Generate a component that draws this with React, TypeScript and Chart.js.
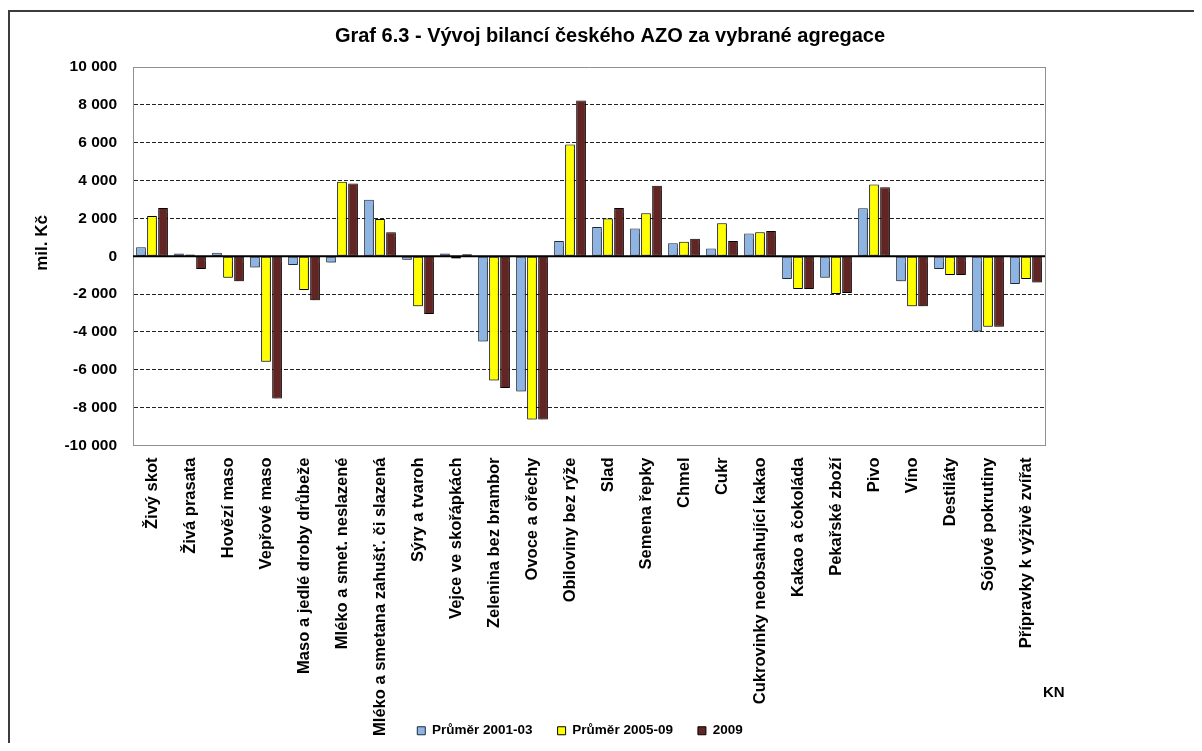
import React, { useEffect, useRef } from "react";
import { Chart, registerables } from "chart.js";

Chart.register(...registerables);

const categories = [
  "Živý skot",
  "Živá prasata",
  "Hovězí maso",
  "Vepřové maso",
  "Maso a jedlé droby drůbeže",
  "Mléko a smet. neslazené",
  "Mléko a smetana zahušť. či slazená",
  "Sýry a tvaroh",
  "Vejce ve skořápkách",
  "Zelenina bez brambor",
  "Ovoce a ořechy",
  "Obiloviny bez rýže",
  "Slad",
  "Semena řepky",
  "Chmel",
  "Cukr",
  "Cukrovinky neobsahující kakao",
  "Kakao a čokoláda",
  "Pekařské zboží",
  "Pivo",
  "Víno",
  "Destiláty",
  "Sójové pokrutiny",
  "Přípravky k výživě zvířat",
];

const avg2001_03 = [480, 140, 190, -600, -460, -335, 2980, -180, 140, -4510, -7150, 810, 1550, 1460, 690, 405, 1200, -1200, -1130, 2540, -1320, -670, -3980, -1460];
const avg2005_09 = [2130, 90, -1130, -5570, -1780, 3930, 1970, -2640, -120, -6570, -8620, 5900, 1990, 2270, 760, 1745, 1270, -1730, -1990, 3790, -2640, -990, -3720, -1200];
const year2009 = [2550, -670, -1320, -7510, -2330, 3840, 1270, -3050, 100, -6960, -8620, 8230, 2555, 3720, 930, 810, 1340, -1730, -1940, 3650, -2640, -990, -3720, -1390];

const seriesLabels = ["Průměr 2001-03", "Průměr 2005-09", "2009"];
const yAxisTitle = "mil. Kč";
const xAxisTitle = "KN";
const chartTitle = "Graf 6.3 - Vývoj bilancí českého AZO za vybrané agregace";
const yMin = -10000;
const yMax = 10000;
const yStep = 2000;

const FONT = "'Liberation Sans', Arial, Helvetica, sans-serif";

function fmt(v: number): string {
  const s = Math.abs(v).toString().replace(/\B(?=(\d{3})+(?!\d))/g, " ");
  return (v < 0 ? "-" : "") + s;
}

const decorPlugin = {
  id: "decor",
  afterLayout(chart: any) {
    const lg = chart.legend;
    if (lg) {
      const dx = -30;
      const dy = 723 - (lg.top + 25 + 7);
      lg.left += dx;
      lg.right += dx;
      lg.top += dy;
      lg.bottom += dy;
    }
    // let the long rotated category labels extend below the axis box
    if (chart.scales.x) chart.scales.x.bottom = chart.height;
  },
  beforeDatasetsDraw(chart: any) {
    const ctx = chart.ctx;
    ctx.save();
    ctx.shadowColor = "rgba(0,0,0,0.4)";
    ctx.shadowOffsetX = 1.5;
    ctx.shadowOffsetY = 1.5;
    ctx.shadowBlur = 1.5;
  },
  afterDatasetsDraw(chart: any) {
    const ctx = chart.ctx;
    ctx.restore();
    const y = chart.scales.y.getPixelForValue(0);
    const { left, right } = chart.chartArea;
    ctx.save();
    ctx.strokeStyle = "#000";
    ctx.lineWidth = 2;
    ctx.beginPath();
    ctx.moveTo(left, y);
    ctx.lineTo(right, y);
    ctx.stroke();
    ctx.restore();
  },
  afterDraw(chart: any) {
    const ctx = chart.ctx;
    const { left, top, right, bottom } = chart.chartArea;
    ctx.save();
    ctx.fillStyle = "#000";
    ctx.font = `bold 15px ${FONT}`;
    ctx.textAlign = "left";
    ctx.textBaseline = "middle";
    ctx.fillText(xAxisTitle, right - 2, bottom + 247.5);
    ctx.translate(left - 91, top + 176);
    ctx.rotate(-Math.PI / 2);
    ctx.font = `bold 17px ${FONT}`;
    ctx.textAlign = "center";
    ctx.fillText(yAxisTitle, 0, 0);
    ctx.restore();
  },
};

export default function App() {
  const ref = useRef<HTMLCanvasElement | null>(null);

  useEffect(() => {
    if (!ref.current) return;
    const chart = new Chart(ref.current, {
      type: "bar",
      data: {
        labels: categories,
        datasets: [
          { label: seriesLabels[0], data: avg2001_03, backgroundColor: "#8EB4E3", borderColor: "#1f2a3a", borderWidth: 1, borderSkipped: false },
          { label: seriesLabels[1], data: avg2005_09, backgroundColor: "#FFFF00", borderColor: "#000000", borderWidth: 1, borderSkipped: false },
          { label: seriesLabels[2], data: year2009, backgroundColor: "#632523", borderColor: "#000000", borderWidth: 1, borderSkipped: false },
        ],
      },
      options: {
        responsive: false,
        animation: false,
        layout: { padding: { left: 20, right: 10, top: 0, bottom: 0 } },
        datasets: { bar: { categoryPercentage: 0.87, barPercentage: 0.88 } },
        plugins: {
          title: {
            display: true,
            text: chartTitle,
            color: "#000",
            font: { family: FONT, size: 20, weight: "bold" },
            padding: { top: 16, bottom: 19 },
          },
          legend: {
            display: true,
            position: "bottom",
            labels: {
              color: "#000",
              font: { family: FONT, size: 13.5, weight: "bold" },
              boxWidth: 8,
              boxHeight: 8,
              padding: 25,
            },
          },
          tooltip: { enabled: false },
        },
        scales: {
          x: {
            grid: { display: false, drawTicks: false },
            border: { display: true, color: "#909090", width: 1 },
            ticks: {
              autoSkip: false,
              maxRotation: 90,
              minRotation: 90,
              padding: 12,
              color: "#000",
              font: { family: FONT, size: 16.5, weight: "bold" },
            },
            afterFit: (s: any) => {
              s.height = 249;
            },
          },
          y: {
            min: yMin,
            max: yMax,
            ticks: {
              stepSize: yStep,
              padding: 16,
              color: "#000",
              font: { family: FONT, size: 15.5, weight: "bold" },
              callback: (v: any) => fmt(Number(v)),
            },
            grid: {
              drawTicks: false,
              lineWidth: 1,
              color: (c: any) => {
                const v = c.tick ? c.tick.value : null;
                if (v === yMin || v === yMax) return "#909090";
                if (v === 0) return "rgba(0,0,0,0)";
                return "#222";
              },
            },
            border: {
              display: true,
              color: "#909090",
              width: 1,
              dash: (c: any) => {
                const v = c && c.tick ? c.tick.value : null;
                if (v === null || v === yMin || v === yMax || v === 0) return [];
                return [4, 2];
              },
            },
            afterFit: (s: any) => {
              s.width = 105;
            },
          },
          y2: {
            position: "right",
            min: yMin,
            max: yMax,
            ticks: { display: false },
            grid: { drawOnChartArea: false, drawTicks: false },
            border: { display: true, color: "#909090", width: 1 },
            afterFit: (s: any) => {
              s.width = 147;
            },
          },
        },
      } as any,
      plugins: [decorPlugin],
    });
    return () => chart.destroy();
  }, []);

  return (
    <div style={{ position: "relative", width: 1194, height: 735, overflow: "hidden", background: "#fff" }}>
      <div
        style={{
          position: "absolute",
          left: 0,
          top: 2,
          width: 1400,
          height: 1000,
          borderLeft: "2px solid #3c3c3c",
          borderTop: "2px solid #3c3c3c",
        }}
      />
      <canvas ref={ref} width={1194} height={735} style={{ position: "absolute", left: 0, top: 0 }} />
    </div>
  );
}
